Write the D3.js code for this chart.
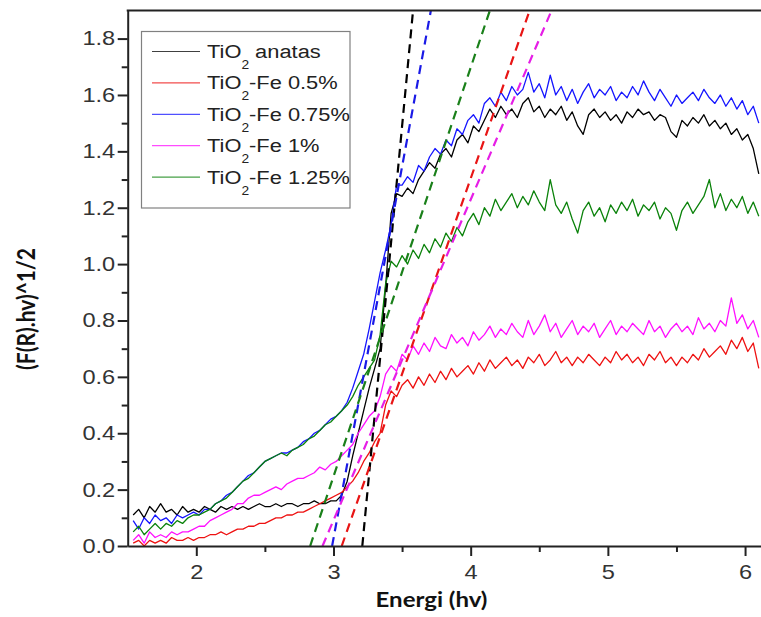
<!DOCTYPE html>
<html><head><meta charset="utf-8">
<script src="https://cdn.jsdelivr.net/npm/d3@7"></script>
<style>body{margin:0;background:#fff}</style>
</head><body><svg id="c" width="761" height="617"></svg>
<script>
const energy = [1.54,1.58,1.62,1.66,1.70,1.74,1.78,1.82,1.86,1.90,
 1.94,1.98,2.02,2.06,2.10,2.14,2.18,2.22,2.26,2.30,
 2.34,2.38,2.42,2.46,2.50,2.54,2.58,2.62,2.66,2.70,
 2.74,2.78,2.82,2.86,2.90,2.94,2.98,3.02,3.06,3.10,
 3.14,3.18,3.22,3.26,3.30,3.34,3.38,3.42,3.46,3.50,
 3.54,3.58,3.62,3.66,3.70,3.74,3.78,3.82,3.86,3.90,
 3.94,3.98,4.02,4.06,4.10,4.14,4.18,4.22,4.26,4.30,
 4.34,4.38,4.42,4.46,4.50,4.54,4.58,4.62,4.66,4.70,
 4.74,4.78,4.82,4.86,4.90,4.94,4.98,5.02,5.06,5.10,
 5.14,5.18,5.22,5.26,5.30,5.34,5.38,5.42,5.46,5.50,
 5.54,5.58,5.62,5.66,5.70,5.74,5.78,5.82,5.86,5.90,
 5.94,5.98,6.02,6.06,6.10];

const tio2Anatas = [0.11,0.13,0.10,0.14,0.12,0.15,0.12,0.13,0.11,0.14,
 0.12,0.13,0.12,0.14,0.13,0.12,0.14,0.13,0.14,0.13,
 0.14,0.13,0.14,0.15,0.14,0.14,0.15,0.14,0.15,0.15,
 0.14,0.15,0.15,0.16,0.15,0.15,0.16,0.16,0.18,0.23,
 0.32,0.40,0.48,0.56,0.63,0.70,0.92,1.18,1.25,1.24,
 1.27,1.25,1.30,1.33,1.36,1.34,1.39,1.41,1.38,1.44,
 1.46,1.43,1.49,1.47,1.51,1.55,1.52,1.56,1.53,1.55,
 1.52,1.57,1.59,1.54,1.56,1.52,1.55,1.53,1.56,1.51,
 1.54,1.49,1.46,1.53,1.55,1.52,1.54,1.51,1.53,1.50,
 1.54,1.52,1.55,1.53,1.54,1.51,1.53,1.52,1.47,1.45,
 1.51,1.49,1.52,1.50,1.53,1.49,1.51,1.48,1.50,1.46,
 1.48,1.44,1.46,1.41,1.32];

const fe05 = [0.01,0.02,0.00,0.02,0.01,0.02,0.01,0.03,0.02,0.02,
 0.03,0.02,0.03,0.03,0.04,0.04,0.05,0.04,0.05,0.06,
 0.06,0.07,0.07,0.08,0.08,0.09,0.10,0.10,0.11,0.11,
 0.12,0.12,0.13,0.14,0.15,0.16,0.17,0.18,0.19,0.21,
 0.23,0.26,0.30,0.33,0.37,0.40,0.50,0.55,0.53,0.57,
 0.59,0.56,0.60,0.57,0.61,0.58,0.62,0.59,0.63,0.60,
 0.62,0.64,0.61,0.65,0.62,0.66,0.63,0.65,0.67,0.64,
 0.66,0.63,0.67,0.65,0.68,0.64,0.66,0.69,0.65,0.67,
 0.64,0.67,0.65,0.68,0.66,0.64,0.67,0.65,0.69,0.66,
 0.68,0.65,0.67,0.64,0.68,0.66,0.69,0.65,0.67,0.64,
 0.67,0.65,0.68,0.66,0.70,0.67,0.69,0.71,0.68,0.73,
 0.70,0.74,0.69,0.72,0.63];

const fe075 = [0.09,0.06,0.10,0.08,0.11,0.09,0.10,0.08,0.11,0.10,
 0.11,0.12,0.11,0.13,0.13,0.15,0.16,0.18,0.19,0.21,
 0.23,0.25,0.26,0.28,0.30,0.31,0.32,0.33,0.33,0.34,
 0.35,0.37,0.38,0.40,0.41,0.43,0.45,0.46,0.48,0.51,
 0.56,0.62,0.68,0.77,0.87,0.97,1.05,1.14,1.28,1.28,
 1.31,1.29,1.35,1.33,1.38,1.41,1.39,1.44,1.42,1.48,
 1.46,1.51,1.53,1.50,1.57,1.59,1.56,1.61,1.58,1.63,
 1.60,1.62,1.68,1.61,1.64,1.59,1.67,1.60,1.63,1.58,
 1.62,1.57,1.61,1.64,1.59,1.62,1.60,1.63,1.58,1.61,
 1.59,1.63,1.60,1.65,1.61,1.58,1.62,1.59,1.56,1.60,
 1.57,1.59,1.61,1.58,1.62,1.59,1.57,1.60,1.56,1.59,
 1.55,1.58,1.53,1.56,1.50];

const fe1 = [0.02,0.04,0.01,0.05,0.03,0.04,0.03,0.05,0.04,0.05,
 0.05,0.06,0.07,0.07,0.09,0.10,0.11,0.12,0.13,0.15,
 0.15,0.17,0.18,0.18,0.19,0.20,0.21,0.20,0.22,0.23,
 0.24,0.24,0.25,0.26,0.28,0.27,0.29,0.30,0.32,0.34,
 0.36,0.40,0.43,0.46,0.48,0.53,0.61,0.64,0.62,0.68,
 0.66,0.71,0.68,0.72,0.69,0.74,0.71,0.70,0.75,0.72,
 0.74,0.71,0.76,0.73,0.75,0.78,0.74,0.77,0.75,0.79,
 0.76,0.74,0.80,0.75,0.78,0.82,0.76,0.79,0.74,0.77,
 0.80,0.75,0.78,0.76,0.79,0.74,0.77,0.80,0.75,0.78,
 0.76,0.79,0.77,0.75,0.80,0.76,0.78,0.74,0.77,0.79,
 0.76,0.78,0.75,0.81,0.77,0.79,0.76,0.80,0.78,0.88,
 0.79,0.82,0.77,0.80,0.74];

const fe125 = [0.05,0.07,0.04,0.06,0.08,0.06,0.08,0.07,0.09,0.08,
 0.10,0.11,0.11,0.12,0.13,0.15,0.16,0.17,0.19,0.21,
 0.23,0.24,0.26,0.28,0.30,0.31,0.32,0.33,0.32,0.34,
 0.35,0.36,0.38,0.39,0.41,0.43,0.44,0.46,0.48,0.50,
 0.53,0.57,0.60,0.63,0.66,0.75,0.93,1.01,0.99,1.03,
 1.00,1.05,1.02,1.07,1.04,1.09,1.06,1.11,1.08,1.13,
 1.10,1.15,1.18,1.14,1.20,1.17,1.23,1.19,1.22,1.25,
 1.20,1.24,1.21,1.26,1.22,1.19,1.30,1.21,1.18,1.22,
 1.16,1.11,1.19,1.22,1.17,1.20,1.15,1.21,1.18,1.22,
 1.19,1.23,1.17,1.21,1.19,1.22,1.16,1.20,1.18,1.12,
 1.19,1.22,1.18,1.21,1.24,1.30,1.20,1.25,1.19,1.23,
 1.20,1.24,1.18,1.22,1.17];

const legendRest = [" anatas", "-Fe 0.5%", "-Fe 0.75%", "-Fe 1%", "-Fe 1.25%"];
const lineColors = ["#000000", "#ee1111", "#1515ff", "#ff10ff", "#0a820a"];
const dashColors = ["#000000", "#e81515", "#1a1ae6", "#e61ee6", "#1a801a"];
// Tangent (Tauc) lines: energy where they meet 0 and energy where they reach the top value
const fitStartE = [3.21, 3.06, 2.99, 2.92, 2.83];
const fitEndE = [3.58, 4.43, 3.71, 4.59, 4.14];
const fitStartV = 0.0;
const fitEndV = 1.9;

const xTicks = [2, 3, 4, 5, 6];
const xMinor = [2.5, 3.5, 4.5, 5.5];
const yTicks = [0, 0.2, 0.4, 0.6, 0.8, 1.0, 1.2, 1.4, 1.6, 1.8];
const yMinor = [0.1, 0.3, 0.5, 0.7, 0.9, 1.1, 1.3, 1.5, 1.7];

const allSeries = [tio2Anatas, fe05, fe075, fe1, fe125];

const svg = d3.select("#c");
svg.append("rect").attr("width", 761).attr("height", 617).attr("fill", "#fff");

const L = 127.7, B = 546, T = 10.4;
const x = d3.scaleLinear().domain([1.5, 6.2]).range([L, 772.5]);
const y = d3.scaleLinear().domain([0, 1.9]).range([B, T]);

svg.append("defs").append("clipPath").attr("id", "clip")
  .append("rect").attr("x", L).attr("y", T).attr("width", 761 - L).attr("height", B - T);

const plot = svg.append("g").attr("clip-path", "url(#clip)");
const line = d3.line().x((d, i) => x(energy[i])).y(d => y(d));

allSeries.forEach((s, k) => {
  plot.append("path").datum(s).attr("d", line)
    .attr("fill", "none").attr("stroke", lineColors[k])
    .attr("stroke-width", 1.3).attr("stroke-linejoin", "round");
});

fitStartE.forEach((e0, k) => {
  plot.append("line")
    .attr("x1", x(e0)).attr("y1", y(fitStartV))
    .attr("x2", x(fitEndE[k])).attr("y2", y(fitEndV))
    .attr("stroke", dashColors[k]).attr("stroke-width", 2.2)
    .attr("stroke-dasharray", "9,6");
});

const axisColor = "#222";
const tickFont = "'Liberation Sans', Arial, sans-serif";

// Y axis
const gy = svg.append("g").attr("transform", `translate(${L},0)`)
  .call(d3.axisLeft(y).tickValues(yTicks).tickSize(10).tickSizeOuter(0).tickFormat(d3.format(".1f")));
svg.append("g").attr("transform", `translate(${L},0)`)
  .call(d3.axisLeft(y).tickValues(yMinor).tickSize(6).tickSizeOuter(0).tickFormat(""))
  .select(".domain").remove();
// X axis
const gx = svg.append("g").attr("transform", `translate(0,${B})`)
  .call(d3.axisBottom(x).tickValues(xTicks).tickSize(10).tickSizeOuter(0).tickFormat(d3.format("d")));
svg.append("g").attr("transform", `translate(0,${B})`)
  .call(d3.axisBottom(x).tickValues(xMinor).tickSize(6).tickSizeOuter(0).tickFormat(""))
  .select(".domain").remove();

svg.selectAll(".domain, .tick line").attr("stroke", axisColor).attr("stroke-width", 2);
svg.selectAll(".tick text").attr("font-family", tickFont).attr("font-size", 20).attr("fill", "#333");
gy.selectAll(".tick text").attr("x", -10.6).attr("transform", "scale(1.18,1)");
gx.selectAll(".tick text").attr("y", 19).attr("dy", "0.71em").attr("transform", "scale(1.18,1)");

// top frame
svg.append("line").attr("x1", L - 1).attr("x2", 761).attr("y1", T).attr("y2", T)
  .attr("stroke", axisColor).attr("stroke-width", 2);

// Axis titles
svg.append("text").attr("transform", "translate(431.5,607) scale(1.2,1)")
  .attr("text-anchor", "middle").attr("font-family", "Lato, 'Open Sans', sans-serif")
  .attr("font-weight", "bold").attr("font-size", 20).attr("fill", "#111").text("Energi (hv)");
svg.append("text").attr("transform", "translate(26,309) scale(1.18,1) rotate(-90)")
  .attr("text-anchor", "middle").attr("dy", "0.35em").attr("font-family", "Lato, 'Open Sans', sans-serif")
  .attr("font-weight", "bold").attr("font-size", 21).attr("fill", "#111").text("(F(R).hv)^1/2");

// Legend
const lg = svg.append("g");
lg.append("rect").attr("x", 141.5).attr("y", 31.5).attr("width", 208.5).attr("height", 176.5)
  .attr("fill", "#fff").attr("stroke", "#808080").attr("stroke-width", 1.2);
legendRest.forEach((t, k) => {
  const base = 58 + k * 31.4;
  lg.append("line").attr("x1", 152).attr("x2", 200).attr("y1", base - 6.5).attr("y2", base - 6.5)
    .attr("stroke", lineColors[k]).attr("stroke-width", 1.2).attr("stroke-opacity", 0.75);
  const tx = lg.append("text").attr("transform", `translate(207,${base}) scale(1.15,1)`)
    .attr("font-family", tickFont).attr("font-size", 19).attr("fill", "#222");
  tx.append("tspan").text("TiO");
  tx.append("tspan").attr("font-size", 12).attr("dy", 11).text("2");
  tx.append("tspan").attr("dy", -11).text(t);
});
</script></body></html>
